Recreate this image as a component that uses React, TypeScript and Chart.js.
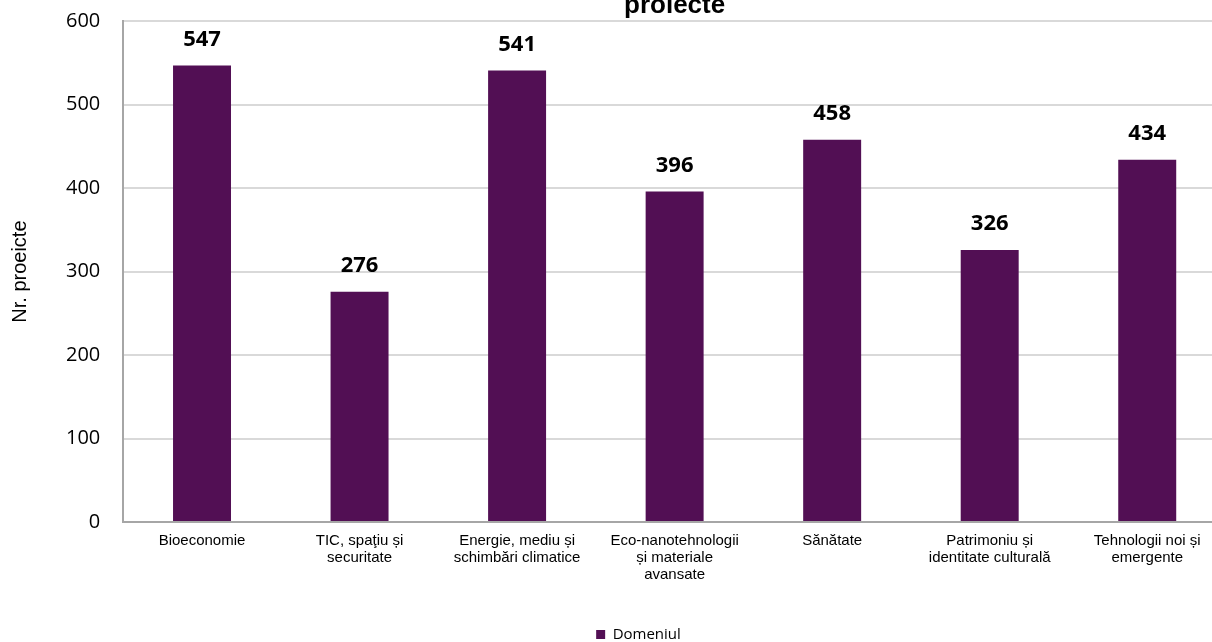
import React, { useEffect, useRef } from "react";
import { Chart, registerables } from "chart.js";

Chart.register(...registerables);

const categories: string[][] = [
  ["Bioeconomie"],
  ["TIC, spaţiu și", "securitate"],
  ["Energie, mediu și", "schimbări climatice"],
  ["Eco-nanotehnologii", "și materiale", "avansate"],
  ["Sănătate"],
  ["Patrimoniu și", "identitate culturală"],
  ["Tehnologii noi și", "emergente"],
];
const values: number[] = [547, 276, 541, 396, 458, 326, 434];
const seriesLabel = "Domeniul";
const titleText = "proiecte";
const yAxisTitle = "Nr. proeicte";
const yTicks = { min: 0, max: 600, step: 100 };

const BAR_COLOR = "#520F54";

const valueLabels = {
  id: "valueLabels",
  afterDatasetsDraw(chart: any) {
    const ctx = chart.ctx;
    const meta = chart.getDatasetMeta(0);
    ctx.save();
    ctx.font = "bold 22px 'Open Sans'";
    ctx.fillStyle = "#000";
    ctx.textAlign = "center";
    ctx.textBaseline = "middle";
    meta.data.forEach((el: any, i: number) => {
      const v = chart.data.datasets[0].data[i];
      ctx.fillText(String(v), el.x, el.y - 26);
    });
    ctx.restore();
  },
};

export default function App() {
  const ref = useRef<HTMLCanvasElement | null>(null);
  useEffect(() => {
    if (!ref.current) return;
    const chart = new Chart(ref.current, {
      type: "bar",
      data: {
        labels: categories,
        datasets: [
          {
            label: seriesLabel,
            data: values,
            backgroundColor: BAR_COLOR,
            borderWidth: 0,
            categoryPercentage: 1,
            barPercentage: 0.368,
          },
        ],
      },
      options: {
        animation: false,
        responsive: false,
        devicePixelRatio: 1,
        layout: { padding: { left: 51, right: 14, top: 0, bottom: 0 } },
        plugins: {
          tooltip: { enabled: false },
          title: {
            display: true,
            text: titleText,
            fullSize: false,
            color: "#000",
            font: { family: "'Liberation Sans', Arial", size: 26, weight: "bold", lineHeight: 1.2 },
            padding: { top: 10, bottom: 0 },
          },
          legend: {
            display: true,
            position: "bottom",
            fullSize: true,
            labels: {
              boxWidth: 9,
              boxHeight: 9,
              padding: 10,
              color: "#000",
              font: { family: "'Open Sans'", size: 15 },
            },
          },
        },
        scales: {
          x: {
            grid: { display: false, drawTicks: false },
            border: { display: true, color: "#a6a6a6", width: 2 },
            ticks: {
              autoSkip: false,
              maxRotation: 0,
              minRotation: 0,
              padding: 10,
              color: "#000",
              font: { family: "'Liberation Sans', Arial", size: 15, lineHeight: 1.13 },
            },
            afterFit: (s: any) => {
              s.height = 95;
            },
          },
          y: {
            min: yTicks.min,
            max: yTicks.max,
            grid: { color: "#d9d9d9", lineWidth: 2, drawTicks: false },
            border: { display: true, color: "#a6a6a6", width: 2 },
            ticks: {
              stepSize: yTicks.step,
              padding: 23,
              color: "#000",
              font: { family: "'Open Sans'", size: 20 },
            },
            title: {
              display: true,
              text: yAxisTitle,
              color: "#000",
              font: { family: "'Liberation Sans', Arial", size: 20, lineHeight: 1.2 },
              padding: { top: -43, bottom: 0 },
            },
            afterFit: (s: any) => {
              s.width = 72.25;
            },
          },
        },
      },
      plugins: [valueLabels],
    });
    return () => chart.destroy();
  }, []);

  return (
    <div
      style={{
        position: "fixed",
        left: 0,
        top: 0,
        width: 1212,
        height: 642,
        overflow: "hidden",
        background: "#fff",
      }}
    >
      <canvas
        ref={ref}
        width={1240}
        height={672}
        style={{ position: "absolute", left: 0, top: -20, width: 1240, height: 672 }}
      />
    </div>
  );
}
